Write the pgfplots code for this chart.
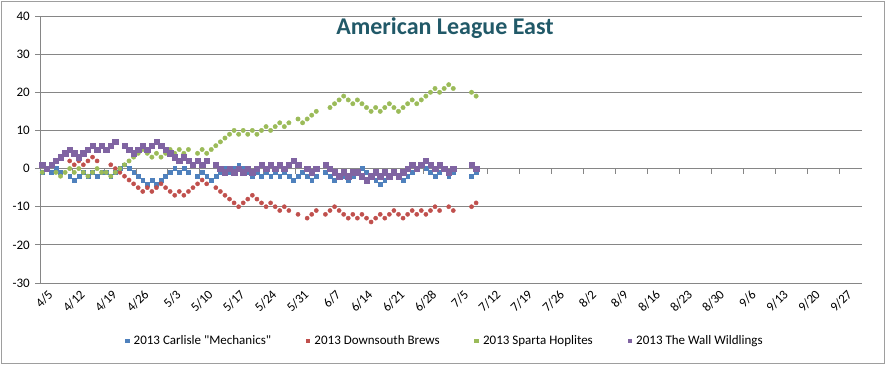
\documentclass[border=0pt]{standalone}
\usepackage{fontspec}
\setmainfont{Carlito}
\usepackage{pgfplots}
\pgfplotsset{compat=1.18}
\definecolor{sblue}{HTML}{4F81BD}
\definecolor{sred}{HTML}{C0504D}
\definecolor{sgreen}{HTML}{9BBB59}
\definecolor{spurple}{HTML}{8064A2}
\definecolor{gridgray}{HTML}{868686}
\definecolor{titlecol}{HTML}{215968}
\begin{document}
\begin{tikzpicture}
\useasboundingbox (0,0) rectangle (886pt,365pt);
\draw[color=gridgray!80, line width=0.8pt] (1.5pt,1.5pt) rectangle (884.5pt,363.5pt);
\node[font=\fontsize{24}{28}\selectfont\bfseries, text=titlecol] at (445pt,337pt) {American League East};
\begin{axis}[
  at={(40pt,82pt)}, anchor=south west,
  scale only axis, width=822pt, height=267pt,
  xmin=-0.5, xmax=179.5, ymin=-30, ymax=40,
  axis lines*=left,
  x axis line style={draw=none},
  y axis line style={draw=gridgray, line width=0.8pt},
  ytick={-30,-20,...,40},
  yticklabels={{-30},{-20},{-10},0,10,20,30,40},
  xtick={0,7,...,175},
  xticklabels={4/5,4/12,4/19,4/26,5/3,5/10,5/17,5/24,5/31,6/7,6/14,6/21,6/28,7/5,7/12,7/19,7/26,8/2,8/9,8/16,8/23,8/30,9/6,9/13,9/20,9/27},
  xtick style={draw=none},
  ytick style={draw=gridgray, line width=0.8pt},
  tick align=outside,
  major tick length=5pt,
  ymajorgrids,
  grid style={draw=gridgray, line width=0.8pt},
  yticklabel style={font=\fontsize{13}{15}\selectfont, text=black, inner sep=1pt, xshift=-4pt},
  xticklabel style={font=\fontsize{13}{15}\selectfont, text=black, rotate=45, anchor=east, inner sep=1pt, yshift=-9pt, xshift=4pt},
  legend style={at={(0.4927,-0.217)}, anchor=center, draw=none, fill=none,
    legend columns=4, font=\fontsize{13}{15}\selectfont,
    /tikz/every even column/.append style={column sep=33pt},
    /tikz/every odd column/.append style={column sep=3pt}},
  legend image code/.code={\draw[#1] plot coordinates {(0pt,0pt)};},
  legend image post style={mark=square*, mark size=1.7pt},
  clip=false,
]
\pgfplotsinvokeforeach{6.5,13.5,20.5,27.5,34.5,41.5,48.5,55.5,62.5,69.5,76.5,83.5,90.5,97.5,104.5,111.5,118.5,125.5,132.5,139.5,146.5,153.5,160.5,167.5,174.5}{
  \draw[gridgray, line width=0.8pt] (axis cs:#1,0) -- ++(0pt,-5pt);
}
\addplot[only marks, mark=square*, mark size=1.9pt, color=sblue] coordinates {
(0,-1)(1,0)(2,-1)(3,0)(4,-1)(6,-2)(7,-3)(8,-2)(9,-1)(10,-2)(11,-1)(12,-2)(13,-1)(14,-1)(15,-2)(16,-1)(17,0)(18,1)(19,0)(20,-1)(21,-2)(22,-3)(23,-4)(24,-3)(25,-4)(26,-3)(27,-2)(28,-1)(29,0)(30,-1)(31,0)(32,-1)(34,-2)(35,-1)(36,-2)(37,-3)(38,-2)(39,-1)(40,0)(41,-1)(42,0)(43,1)(44,0)(45,-1)(46,-2)(47,-1)(48,-2)(49,-1)(50,-2)(51,-1)(52,-2)(53,-1)(54,-2)(55,-3)(56,-2)(57,-1)(58,-2)(59,-3)(60,-2)(62,-1)(63,-2)(64,-3)(65,-2)(66,-2)(67,-3)(68,-2)(69,-1)(70,0)(71,-1)(72,-2)(73,-3)(74,-4)(75,-3)(76,-2)(77,-1)(78,-2)(79,-3)(80,-2)(81,-1)(82,0)(83,1)(84,0)(85,-1)(86,-2)(87,-1)(88,0)(89,-2)(90,-1)(94,-2)(95,-1)
};
\addlegendentry{2013 Carlisle \textquotedbl Mechanics\textquotedbl}
\addplot[only marks, mark=*, mark size=2.1pt, color=sred] coordinates {
(6,2)(7,1)(8,2)(9,1)(10,2)(11,3)(12,2)(15,1)(16,0)(17,-1)(18,-2)(19,-3)(20,-4)(21,-5)(22,-6)(23,-5)(24,-6)(25,-5)(26,-4)(27,-5)(28,-6)(29,-7)(30,-6)(31,-7)(32,-6)(33,-5)(34,-4)(35,-3)(36,-4)(38,-5)(39,-6)(40,-7)(41,-8)(42,-9)(43,-10)(44,-9)(45,-8)(46,-7)(47,-8)(48,-9)(49,-10)(50,-9)(51,-10)(52,-11)(53,-10)(54,-11)(56,-12)(58,-13)(59,-12)(60,-11)(62,-12)(63,-11)(64,-10)(65,-11)(66,-12)(67,-13)(68,-12)(69,-13)(70,-12)(71,-13)(72,-14)(73,-13)(74,-12)(75,-13)(76,-12)(77,-11)(78,-12)(79,-13)(80,-12)(81,-11)(82,-12)(83,-11)(84,-12)(85,-11)(86,-10)(87,-11)(89,-10)(90,-11)(94,-10)(95,-9)
};
\addlegendentry{2013 Downsouth Brews}
\addplot[only marks, mark=*, mark size=2.2pt, color=sgreen] coordinates {
(0,-1)(1,0)(3,-1)(4,-2)(5,-1)(6,0)(7,-1)(8,0)(9,-1)(10,-2)(11,-1)(12,0)(13,-1)(14,-1)(15,-2)(16,-1)(17,0)(18,1)(19,2)(20,3)(21,4)(22,5)(23,4)(24,3)(25,4)(26,3)(27,4)(28,5)(29,4)(30,5)(31,4)(32,5)(34,4)(35,5)(36,4)(37,5)(38,6)(39,7)(40,8)(41,9)(42,10)(43,9)(44,10)(45,9)(46,10)(47,9)(48,10)(49,11)(50,10)(51,11)(52,12)(53,11)(54,12)(56,13)(57,12)(58,13)(59,14)(60,15)(63,16)(64,17)(65,18)(66,19)(67,18)(68,17)(69,18)(70,17)(71,16)(72,15)(73,16)(74,15)(75,16)(76,17)(77,16)(78,15)(79,16)(80,17)(81,18)(82,17)(83,18)(84,19)(85,20)(86,21)(87,20)(88,21)(89,22)(90,21)(94,20)(95,19)
};
\addlegendentry{2013 Sparta Hoplites}
\addplot[only marks, mark=square*, mark size=2.7pt, color=spurple] coordinates {
(0,1)(1,0)(2,1)(3,2)(4,3)(5,4)(6,5)(7,4)(8,3)(9,4)(10,5)(11,6)(12,5)(13,6)(14,5)(15,6)(16,7)(18,6)(19,5)(20,4)(21,5)(22,6)(23,5)(24,6)(25,7)(26,6)(27,5)(28,4)(29,3)(30,2)(31,3)(32,2)(33,1)(34,2)(35,1)(36,2)(38,1)(39,0)(40,-1)(41,0)(42,-1)(43,0)(44,-1)(45,0)(46,-1)(47,0)(48,1)(49,0)(50,1)(51,0)(52,1)(53,0)(54,1)(55,2)(56,1)(58,0)(59,-1)(60,0)(62,1)(63,0)(64,-1)(65,-2)(66,-1)(67,-2)(68,-1)(69,-1)(70,-2)(71,-3)(72,-2)(73,-1)(74,-2)(75,-1)(76,-2)(77,-1)(78,-2)(79,-1)(80,0)(81,1)(82,0)(83,1)(84,2)(85,1)(86,0)(87,1)(88,0)(89,-1)(90,0)(94,1)(95,0)
};
\addlegendentry{2013 The Wall Wildlings}
\end{axis}
\end{tikzpicture}
\end{document}
